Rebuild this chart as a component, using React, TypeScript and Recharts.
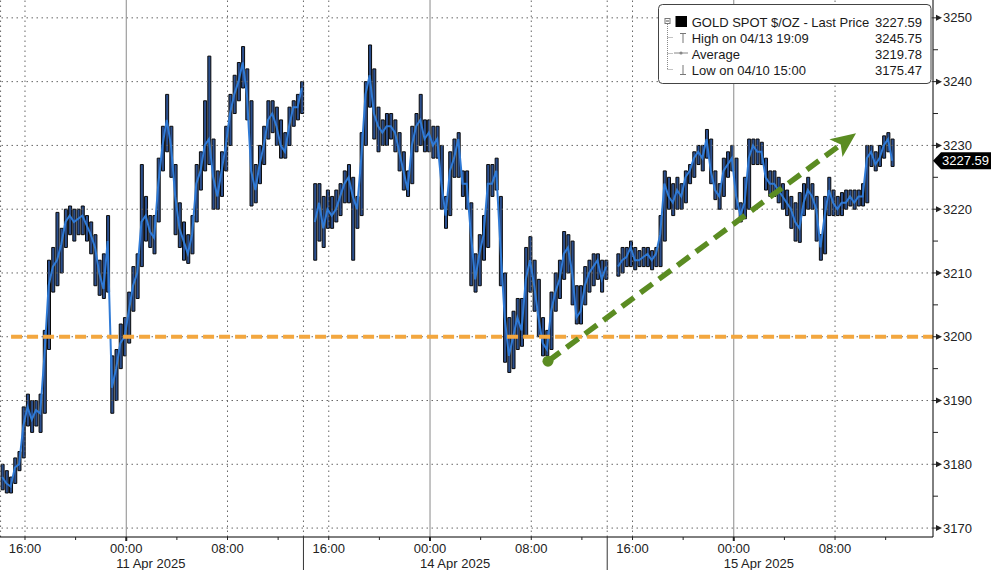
import React from 'react';
import { ComposedChart, Bar, Line, XAxis, YAxis, ReferenceLine, ReferenceDot } from 'recharts';

const seriesName = 'GOLD SPOT $/OZ - Last Price';
const lastPrice = 3227.59;
const highLabel = 'High on 04/13 19:09';
const highValue = 3245.75;
const avgLabel = 'Average';
const avgValue = 3219.78;
const lowLabel = 'Low on 04/10 15:00';
const lowValue = 3175.47;

// time axis in trading hours since 10 Apr 16:00 (weekend removed)
const stepHours = 1 / 3;
const sessionStart = [-1.8, 22.9, 46.85];
const xDomain = [-1.975, 71.74];
const yDomain = [3168.6, 3252.8];

const close1 = [3178, 3177, 3176.5, 3179.5, 3180, 3186, 3189, 3187, 3188.5, 3188,
  3197, 3208, 3211, 3212, 3214.5, 3218, 3219, 3218, 3218.5, 3219,
  3217.5, 3216, 3214, 3210, 3207.5, 3215, 3192, 3195, 3199, 3200,
  3204, 3208, 3210, 3218, 3219, 3216.5, 3215.5, 3224, 3230, 3234,
  3230, 3222, 3217, 3215, 3213, 3216, 3224, 3226, 3230, 3231,
  3225, 3222, 3226, 3230, 3235, 3238, 3240, 3243, 3238, 3226,
  3223, 3227, 3230, 3234, 3235, 3233, 3230, 3229, 3233, 3236,
  3236, 3239];
const high1 = [3180, 3179, 3178, 3181, 3182, 3189, 3191, 3190, 3190, 3191,
  3201, 3212, 3214, 3219.5, 3217, 3220, 3220.5, 3220, 3220, 3220.5,
  3219, 3218, 3216, 3212, 3213, 3219, 3197, 3198, 3202, 3203,
  3207, 3211, 3213, 3227, 3222, 3219, 3219, 3228, 3233, 3238,
  3233, 3227, 3221, 3218, 3216, 3219, 3227, 3229, 3237, 3244,
  3231, 3226, 3229, 3233, 3238, 3241, 3243, 3245.5, 3242, 3237,
  3227, 3230, 3233, 3237, 3237, 3236, 3234, 3232, 3236, 3237,
  3238, 3240];
const low1 = [3176, 3175.5, 3175.5, 3177, 3179, 3181, 3186, 3185, 3186, 3185,
  3188, 3198, 3207, 3208, 3210, 3214, 3216, 3215, 3216, 3216,
  3215, 3213, 3208, 3206.5, 3206, 3207, 3188, 3190, 3195, 3197,
  3199, 3204, 3206, 3211, 3215, 3214, 3213, 3218, 3226, 3229,
  3225, 3216, 3214, 3212, 3211.5, 3213, 3218, 3223, 3226, 3227,
  3220, 3220, 3222, 3226, 3230, 3235, 3237, 3239, 3234, 3220.5,
  3221, 3224, 3227, 3231, 3232, 3230, 3228, 3228, 3230, 3233,
  3234, 3235];

const close2 = [3218, 3221, 3217, 3220, 3219, 3220, 3222, 3224, 3225, 3222,
  3220, 3228, 3238, 3241, 3235, 3233, 3232, 3233, 3233, 3232,
  3229, 3226, 3223, 3230, 3233, 3234, 3231, 3232, 3230, 3231,
  3224, 3219, 3226, 3228, 3231, 3224, 3224, 3216, 3209, 3213,
  3216, 3224, 3224, 3226, 3214, 3203, 3197, 3200, 3203, 3201,
  3209, 3212, 3208, 3203, 3199, 3198, 3204, 3207, 3209, 3213,
  3214, 3210, 3203, 3204, 3208, 3210, 3211, 3212, 3209, 3211];
const high2 = [3224, 3224, 3222, 3223, 3222, 3223, 3224, 3226, 3227, 3225,
  3222, 3232, 3240, 3245.75, 3242, 3236, 3234, 3235, 3235, 3234,
  3232, 3229, 3226, 3233, 3235, 3238, 3234, 3234, 3233, 3233,
  3230, 3222, 3229, 3231, 3232, 3226, 3226, 3221, 3213, 3216,
  3219, 3227, 3227, 3228, 3222, 3210, 3203, 3204, 3206, 3206,
  3214, 3215.7, 3212, 3209, 3203, 3201, 3207, 3210, 3212, 3216.5,
  3216, 3215, 3208, 3208, 3211, 3212, 3213, 3213, 3212, 3212];
const low2 = [3212, 3215, 3214, 3217, 3217, 3218, 3219, 3221, 3221, 3212,
  3217, 3219, 3230, 3236, 3231, 3229, 3230, 3230, 3231, 3229,
  3226, 3223, 3222, 3224, 3229, 3230, 3229, 3229, 3228, 3228,
  3220, 3217, 3219, 3225, 3225, 3222, 3220, 3208, 3207, 3208,
  3212, 3214, 3222, 3223, 3208, 3196, 3194.4, 3195, 3198, 3198.5,
  3200, 3207, 3204, 3200, 3197, 3197, 3198, 3204, 3206, 3209,
  3210, 3205, 3202, 3202, 3205, 3207, 3208, 3209, 3207, 3209];

const close3 = [3211, 3212, 3212.5, 3214, 3212, 3212, 3212.5, 3213, 3212, 3213,
  3216, 3224, 3222, 3221, 3223, 3222, 3225, 3226, 3228, 3229,
  3228, 3231, 3226, 3223, 3222, 3226, 3227, 3228, 3222, 3219,
  3221, 3228, 3230, 3229, 3229, 3225, 3224, 3224, 3223, 3222,
  3221, 3220, 3218, 3217, 3221, 3223, 3222, 3220, 3214, 3219,
  3223, 3221, 3220, 3221, 3221, 3222, 3221, 3222, 3222, 3228,
  3229, 3227, 3228, 3230, 3231, 3227.59];
const high3 = [3213, 3214, 3214, 3215, 3214, 3213.5, 3214, 3214, 3213.5, 3214,
  3219, 3226, 3225, 3224, 3225, 3224, 3226, 3227, 3229, 3230,
  3230, 3232.5, 3231, 3226, 3224, 3228, 3229, 3230, 3228, 3221,
  3225, 3231, 3231, 3231, 3230.5, 3228, 3226, 3226, 3225, 3224,
  3223, 3222, 3221, 3222.6, 3224, 3225, 3224, 3222, 3216, 3222,
  3225, 3223, 3222, 3222.6, 3223, 3223, 3223, 3223, 3224, 3230,
  3230, 3229, 3230, 3231.5, 3232, 3231];
const low3 = [3209.5, 3210, 3211, 3211, 3210.5, 3211, 3211, 3211, 3210.5, 3211,
  3211, 3215, 3220, 3219, 3220, 3220, 3221, 3224, 3225, 3227,
  3226, 3228, 3224, 3221.5, 3220, 3222, 3225, 3226, 3220, 3218,
  3218.5, 3220, 3227, 3227, 3227, 3223, 3222, 3222, 3221, 3220,
  3219, 3217, 3215, 3214.8, 3219, 3220, 3220, 3215, 3212, 3213,
  3219, 3219, 3219, 3219, 3220, 3220.5, 3220, 3220.5, 3220.5, 3221,
  3226.7, 3226, 3226.7, 3228, 3229, 3226.7];

// axis ticks
const xMinorTicks = [0, 4, 8, 12, 16, 20, 24, 28, 32, 36, 40, 44, 48, 52, 56, 60, 64, 68];
const sessionBreaks = [22, 46];
const timeTicks = [0, 8, 16, 24, 32, 40, 48, 56, 64];
const timeLabels = ['16:00', '00:00', '08:00', '16:00', '00:00', '08:00', '16:00', '00:00', '08:00'];
const dayTicks = [8, 32, 56];
const dayLabels = ['11 Apr 2025', '14 Apr 2025', '15 Apr 2025'];
const dottedVerticals = [-1.93, 0, 16, 22, 24, 40, 46, 48, 64];
const yMajorTicks = [3170, 3180, 3190, 3200, 3210, 3220, 3230, 3240, 3250];
const yAllTicks = [3170, 3175, 3180, 3185, 3190, 3195, 3200, 3205, 3210, 3215, 3220, 3225, 3230, 3235, 3240, 3245, 3250];

// annotations
const supportLevel = 3200;
const supportStart = -1.1;
const trendStart = { x: 41.32, y: 3196.16 };
const trendEnd = { x: 65.66, y: 3231.9 };

const FONT = '"Liberation Sans", Arial, sans-serif';
const BLUE = '#2f7ad6';
const GREEN = '#5b8c22';
const ORANGE = '#f3a73f';

const sessions = [
  { start: sessionStart[0], close: close1, high: high1, low: low1 },
  { start: sessionStart[1], close: close2, high: high2, low: low2 },
  { start: sessionStart[2], close: close3, high: high3, low: low3 },
];
const sessionRows = sessions.map((s) =>
  s.close.map((c, i) => ({ t: s.start + i * stepHours, close: c, range: [s.low[i], s.high[i]] }))
);
const allRows = sessionRows.flat();
const xTicks = [...xMinorTicks, ...sessionBreaks].sort((a, b) => a - b);

const XTick = (props: any) => {
  const { x, y, payload } = props;
  const v = payload.value;
  const li = timeTicks.indexOf(v);
  const di = dayTicks.indexOf(v);
  const isBreak = sessionBreaks.indexOf(v) >= 0;
  return (
    <g>
      {isBreak ? (
        <line x1={x} x2={x} y1={y} y2={y + 33} stroke="#333" strokeWidth={1} />
      ) : (
        <line x1={x} x2={x} y1={y} y2={y + (di >= 0 ? 4 : 3)} stroke="#222" strokeWidth={di >= 0 ? 2 : 1} />
      )}
      {li >= 0 && (
        <text x={x} y={y + 15.5} textAnchor="middle" fontFamily={FONT} fontSize={13} fill="#222">
          {timeLabels[li]}
        </text>
      )}
      {di >= 0 && (
        <text x={x - 10} y={y + 30.5} textAnchor="start" fontFamily={FONT} fontSize={13} fill="#222">
          {dayLabels[di]}
        </text>
      )}
    </g>
  );
};

const YTick = (props: any) => {
  const { x, y, payload } = props;
  const v = payload.value;
  const major = yMajorTicks.indexOf(v) >= 0;
  if (!major) {
    return <line x1={x} x2={x + 5} y1={y} y2={y} stroke="#222" strokeWidth={1} />;
  }
  return (
    <g>
      <line x1={x} x2={x + 5} y1={y} y2={y} stroke="#222" strokeWidth={1} />
      <polygon points={`${x + 3},${y - 3} ${x + 9},${y} ${x + 3},${y + 3}`} fill="#222" />
      <text x={x + 10} y={y + 4.6} textAnchor="start" fontFamily={FONT} fontSize={13} fill="#222">
        {v}
      </text>
    </g>
  );
};

const ArrowShape = (p: any) => {
  const { x1, y1, x2, y2 } = p;
  const dx = x2 - x1;
  const dy = y2 - y1;
  const len = Math.hypot(dx, dy) || 1;
  const ux = dx / len;
  const uy = dy / len;
  const nx = -uy;
  const ny = ux;
  const headLen = 25;
  const headW = 11;
  const bx = x2 - ux * headLen;
  const by = y2 - uy * headLen;
  return (
    <g>
      <line x1={x1} y1={y1} x2={bx + ux * 4} y2={by + uy * 4} stroke={GREEN} strokeWidth={5.5} strokeDasharray="15 8" />
      <circle cx={x1} cy={y1} r={5.5} fill={GREEN} />
      <polygon
        points={`${x2},${y2} ${bx + nx * headW},${by + ny * headW} ${bx + ux * 6},${by + uy * 6} ${bx - nx * headW},${by - ny * headW}`}
        fill={GREEN}
      />
    </g>
  );
};

const PriceBadge = (p: any) => {
  const { cx, cy } = p;
  return (
    <g>
      <polygon
        points={`${cx},${cy} ${cx + 8},${cy - 8.5} ${cx + 58},${cy - 8.5} ${cx + 58},${cy + 8.5} ${cx + 8},${cy + 8.5}`}
        fill="#000"
      />
      <text x={cx + 9} y={cy + 4.6} fontFamily={FONT} fontSize={13} fill="#fff">
        {lastPrice.toFixed(2)}
      </text>
    </g>
  );
};

const LegendBox = () => {
  const rows = [
    { label: seriesName, value: lastPrice },
    { label: highLabel, value: highValue },
    { label: avgLabel, value: avgValue },
    { label: lowLabel, value: lowValue },
  ];
  const base = [26.5, 42.5, 58.5, 74.5];
  return (
    <svg width={991} height={90} style={{ position: 'absolute', left: 0, top: 0, pointerEvents: 'none' }}>
      <rect x={658.5} y={4.5} width={272.5} height={79} rx={4} ry={4} fill="#fff" stroke="#444" strokeWidth={1} />
      <line x1={667.5} x2={667.5} y1={24} y2={70} stroke="#888" strokeDasharray="1 1" />
      <line x1={667.5} x2={673} y1={37.5} y2={37.5} stroke="#888" strokeDasharray="1 1" />
      <line x1={667.5} x2={673} y1={53.5} y2={53.5} stroke="#888" strokeDasharray="1 1" />
      <line x1={667.5} x2={673} y1={69.5} y2={69.5} stroke="#888" strokeDasharray="1 1" />
      <rect x={665} y={18.5} width={5} height={5} fill="#fff" stroke="#777" />
      <line x1={666} x2={669} y1={21} y2={21} stroke="#555" />
      <rect x={675.5} y={16} width={11.5} height={11} fill="#000" />
      <line x1={680} x2={686} y1={33.5} y2={33.5} stroke="#777" />
      <line x1={683} x2={683} y1={33.5} y2={43} stroke="#777" />
      <line x1={674} x2={688} y1={53} y2={53} stroke="#888" />
      <circle cx={681} cy={53} r={1.6} fill="#888" />
      <line x1={683} x2={683} y1={65} y2={74.5} stroke="#777" />
      <line x1={680} x2={686} y1={74.5} y2={74.5} stroke="#777" />
      {rows.map((r, i) => (
        <g key={i}>
          <text x={691.7} y={base[i]} fontFamily={FONT} fontSize={13} fill="#1a1a1a">
            {r.label}
          </text>
          <text x={922} y={base[i]} textAnchor="end" fontFamily={FONT} fontSize={13} fill="#1a1a1a">
            {r.value.toFixed(2)}
          </text>
        </g>
      ))}
    </svg>
  );
};

export default function App() {
  return (
    <div style={{ position: 'absolute', left: 0, top: 0, width: 991, height: 570, background: '#fff' }}>
      <ComposedChart width={991} height={570} data={allRows} margin={{ top: 0, right: 0, bottom: 0, left: 0 }}>
        <XAxis
          dataKey="t"
          type="number"
          domain={xDomain}
          allowDataOverflow
          ticks={xTicks}
          interval={0}
          tick={<XTick />}
          tickLine={false}
          tickSize={0}
          tickMargin={0}
          axisLine={{ stroke: '#000', strokeWidth: 1 }}
          height={33}
        />
        <YAxis
          orientation="right"
          type="number"
          domain={yDomain}
          allowDataOverflow
          ticks={yAllTicks}
          interval={0}
          tick={<YTick />}
          tickLine={false}
          tickSize={0}
          tickMargin={0}
          axisLine={{ stroke: '#000', strokeWidth: 1 }}
          width={58}
        />
        {yMajorTicks.map((v) => (
          <ReferenceLine key={'h' + v} y={v} stroke="#666" strokeWidth={1} strokeDasharray="1.5 3.5" />
        ))}
        {dottedVerticals.map((v) => (
          <ReferenceLine key={'v' + v} x={v} stroke="#666" strokeWidth={1} strokeDasharray="1.5 3.5" />
        ))}
        {dayTicks.map((v) => (
          <ReferenceLine key={'d' + v} x={v} stroke="#8a8a8a" strokeWidth={1} />
        ))}
        <Bar dataKey="range" barSize={3} fill="#2b4f8e" stroke="#0a0a0a" strokeWidth={1} isAnimationActive={false} />
        {sessionRows.map((rows, k) => (
          <Line
            key={'s' + k}
            data={rows}
            dataKey="close"
            name={seriesName}
            type="linear"
            stroke={BLUE}
            strokeWidth={2}
            dot={false}
            activeDot={false}
            isAnimationActive={false}
          />
        ))}
        <ReferenceLine
          segment={[{ x: supportStart, y: supportLevel }, { x: xDomain[1], y: supportLevel }]}
          stroke={ORANGE}
          strokeWidth={4}
          strokeDasharray="11 5"
        />
        <ReferenceLine segment={[trendStart, trendEnd]} shape={ArrowShape} stroke={GREEN} />
        <ReferenceDot x={xDomain[1]} y={lastPrice} ifOverflow="visible" shape={PriceBadge} />
      </ComposedChart>
      <LegendBox />
    </div>
  );
}
